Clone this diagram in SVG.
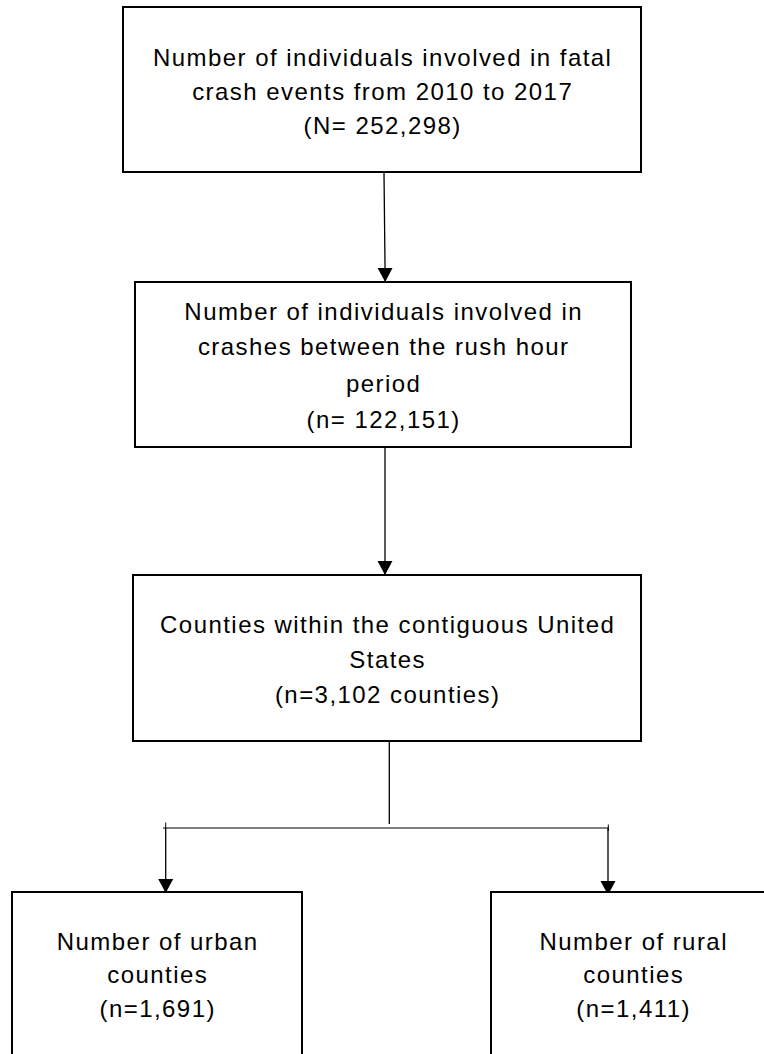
<svg xmlns="http://www.w3.org/2000/svg" width="764" height="1054" viewBox="0 0 764 1054">
<style>
.box{fill:#fff;stroke:#000;stroke-width:2}
.t{font-family:"Liberation Sans",Arial,sans-serif;font-size:24px;letter-spacing:1.45px;fill:#000;text-anchor:middle}
.c{fill:none;stroke:#000;stroke-width:1.3}
.thin{fill:none;stroke:#000;stroke-width:1}
</style>
<defs>
<marker id="ah" markerUnits="userSpaceOnUse" markerWidth="15" markerHeight="16" refX="14" refY="8" orient="auto">
<path d="M0,0.5 L14,8 L0,15.5 z" fill="#000"/>
</marker>
</defs>
<rect width="764" height="1054" fill="#fff"/>
<g id="connectors">
<line class="c" x1="384" y1="173" x2="385.2" y2="282" marker-end="url(#ah)"/>
<line class="c" x1="385" y1="448" x2="385" y2="575" marker-end="url(#ah)"/>
<line class="c" x1="389.3" y1="742" x2="389.3" y2="824"/>
<line class="thin" x1="163" y1="828" x2="609" y2="828"/>
<line class="thin" x1="165.7" y1="822.5" x2="165.7" y2="828"/>
<line class="thin" x1="608.3" y1="824.5" x2="608.3" y2="831"/>
<line class="c" x1="165.7" y1="828" x2="165.7" y2="893" marker-end="url(#ah)"/>
<line class="c" x1="608" y1="828" x2="608" y2="895" marker-end="url(#ah)"/>
</g>
<g id="n1">
<rect class="box" x="123" y="7" width="518" height="165"/>
<text class="t" x="382.7" y="66">Number of individuals involved in fatal</text>
<text class="t" x="382.7" y="100">crash events from 2010 to 2017</text>
<text class="t" x="382.7" y="134">(N= 252,298)</text>
</g>
<g id="n2">
<rect class="box" x="135" y="282" width="496" height="165"/>
<text class="t" x="383.7" y="320">Number of individuals involved in</text>
<text class="t" x="383.7" y="355">crashes between the rush hour</text>
<text class="t" x="383.7" y="392">period</text>
<text class="t" x="383.7" y="428">(n= 122,151)</text>
</g>
<g id="n3">
<rect class="box" x="133" y="575" width="508" height="166"/>
<text class="t" x="387.7" y="633">Counties within the contiguous United</text>
<text class="t" x="387.7" y="668">States</text>
<text class="t" x="387.7" y="703">(n=3,102 counties)</text>
</g>
<g id="n4">
<rect class="box" x="12" y="892" width="290" height="200"/>
<text class="t" x="157.7" y="950">Number of urban</text>
<text class="t" x="157.7" y="983">counties</text>
<text class="t" x="157.7" y="1017">(n=1,691)</text>
</g>
<g id="n5">
<rect class="box" x="491" y="892" width="284" height="200"/>
<text class="t" x="633.7" y="950">Number of rural</text>
<text class="t" x="633.7" y="983">counties</text>
<text class="t" x="633.7" y="1017">(n=1,411)</text>
</g>
</svg>
